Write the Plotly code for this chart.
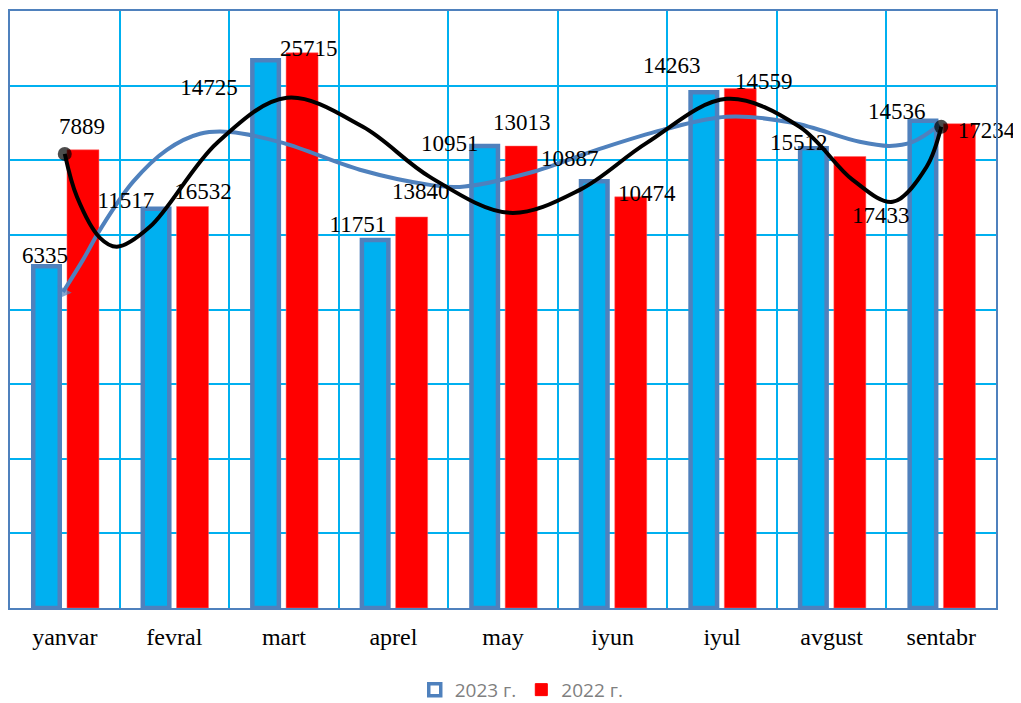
import plotly.graph_objects as go

# ---- data ----
months = ["yanvar", "fevral", "mart", "aprel", "may", "iyun", "iyul", "avgust", "sentabr"]
bars_2023 = [18320, 21400, 29360, 19720, 24760, 22880, 27640, 24640, 26120]
bars_2022 = [24560, 21520, 29760, 20960, 24760, 22040, 27840, 24200, 25960]

# smooth black curve (position along months axis, value)
black_x = [0.0, 0.111, 0.321, 0.476, 0.777, 1.389, 2.027, 2.721, 3.332, 4.062,
           4.701, 5.312, 6.042, 6.708, 7.192, 7.557, 7.867, 8.0]
black_y = [24340, 22040, 19840, 19360, 20430, 24930, 27350, 25790, 23110, 21180,
           22410, 24930, 27290, 25790, 22950, 21770, 23650, 25790]

# smooth blue curve
blue_x = [-0.016, 0.166, 0.321, 0.622, 0.932, 1.234, 1.507, 1.991, 2.693, 3.332,
          3.606, 4.245, 4.856, 5.458, 6.042, 6.644, 7.255, 7.529, 7.739, 7.985]
blue_y = [16940, 18660, 20270, 22840, 24560, 25420, 25520, 24930, 23490, 22680,
          22570, 23330, 24560, 25630, 26330, 26010, 24990, 24770, 24990, 25900]

# free-floating value labels
label_text = ["6335", "7889", "11517", "16532", "14725", "25715", "11751", "13840", "10951",
              "13013", "10887", "10474", "14263", "14559", "15512", "17433", "14536", "17234"]
label_x = [-0.181, 0.157, 0.558, 1.261, 1.316, 2.228, 2.675, 3.250, 3.515,
           4.172, 4.609, 5.312, 5.540, 6.380, 6.699, 7.447, 7.593, 8.414]
label_y = [18820, 25740, 21770, 22250, 27830, 29920, 20480, 22250, 24830,
           25950, 24020, 22150, 28960, 28150, 24880, 20970, 26540, 25520]

BLUE_FILL = "#00B0F0"
BLUE_EDGE = "#4F81BD"
RED = "#FF0000"
GRID = "#00B0F0"
SERIF = "Liberation Serif, Times New Roman, serif"

fig = go.Figure()

# bars (drawn, legend hidden)
fig.add_trace(go.Bar(
    x=months, y=bars_2023, name="2023 г.", showlegend=False,
    marker=dict(color=BLUE_FILL, line=dict(color=BLUE_EDGE, width=4.5)),
    offset=-0.288, width=0.242, hoverinfo="y"))
fig.add_trace(go.Bar(
    x=months, y=bars_2022, name="2022 г.", showlegend=False,
    marker=dict(color=RED, line=dict(color="#FF6666", width=0.5)),
    offset=0.02, width=0.292, hoverinfo="y"))

# legend-only entries
fig.add_trace(go.Bar(
    x=[0], y=[None], xaxis="x2", name="2023 г.",
    marker=dict(color="white", line=dict(color=BLUE_EDGE, width=3.5))))
fig.add_trace(go.Bar(
    x=[0], y=[None], xaxis="x2", name="2022 г.",
    marker=dict(color=RED, line=dict(color=RED, width=1))))

# blue smooth line with arrowhead at start
n_blue = len(blue_x)
fig.add_trace(go.Scatter(
    x=blue_x, y=blue_y, xaxis="x2", mode="lines+markers", showlegend=False,
    line=dict(color=BLUE_EDGE, width=4, shape="spline", smoothing=1.0),
    marker=dict(symbol="triangle-up", size=[14] + [0] * (n_blue - 1),
                angle=-151, color=BLUE_EDGE, line=dict(width=0)),
    hoverinfo="skip"))

# black smooth line with end markers
n_black = len(black_x)
fig.add_trace(go.Scatter(
    x=black_x, y=black_y, xaxis="x2", mode="lines+markers", showlegend=False,
    line=dict(color="black", width=4, shape="spline", smoothing=1.0),
    marker=dict(symbol="circle", size=[14] + [0] * (n_black - 2) + [14],
                color="black", line=dict(width=0)),
    hoverinfo="skip"))

# value labels
fig.add_trace(go.Scatter(
    x=label_x, y=label_y, xaxis="x2", mode="text", text=label_text,
    textposition="middle center", showlegend=False, cliponaxis=False,
    textfont=dict(family=SERIF, size=23, color="black"), hoverinfo="skip"))

fig.update_layout(
    width=1013, height=695,
    margin=dict(l=2, r=25, t=3, b=95, autoexpand=False),
    paper_bgcolor="white", plot_bgcolor="white",
    barmode="overlay",
    showlegend=True,
    legend=dict(orientation="h", x=0.519, xanchor="center", y=-0.137, yanchor="middle",
                font=dict(family="Open Sans, sans-serif", size=19, color="#7F7F7F"),
                itemwidth=30, traceorder="normal", bgcolor="rgba(0,0,0,0)"),
    xaxis=dict(type="category", categoryorder="array", categoryarray=months,
               range=[-0.5, 8.5], tickson="boundaries",
               showgrid=True, gridcolor=GRID, gridwidth=2,
               showline=True, mirror=True, linecolor=BLUE_EDGE, linewidth=2,
               ticks="", ticklabelstandoff=6,
               tickfont=dict(family=SERIF, size=24, color="black"),
               fixedrange=True),
    xaxis2=dict(overlaying="x", range=[-0.5, 8.5], visible=False, fixedrange=True),
    yaxis=dict(range=[0, 32000], dtick=4000, showticklabels=False,
               showgrid=True, gridcolor=GRID, gridwidth=2, zeroline=False,
               showline=True, mirror=True, linecolor=BLUE_EDGE, linewidth=2,
               ticks="", fixedrange=True),
)

fig.write_html("out.html")
